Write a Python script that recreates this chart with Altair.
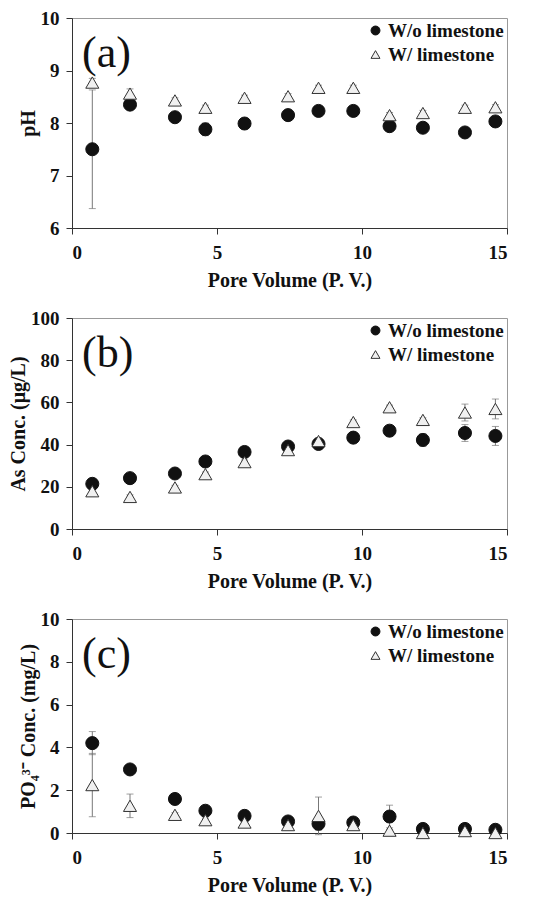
import altair as alt
import pandas as pd

series_names = ["W/o limestone", "W/ limestone"]
pore_volume = [0.7, 2.0, 3.55, 4.6, 5.95, 7.45, 8.5, 9.7, 10.95, 12.1, 13.55, 14.6]

ph_wo = [7.50, 8.35, 8.11, 7.88, 7.99, 8.15, 8.23, 8.23, 7.94, 7.91, 7.82, 8.03]
ph_wo_err = [1.13, 0.05, 0.08, 0.12, 0.04, 0.04, 0.04, 0.04, 0.05, 0.05, 0.04, 0.05]
ph_w = [8.77, 8.56, 8.43, 8.29, 8.48, 8.51, 8.67, 8.67, 8.15, 8.19, 8.29, 8.30]
ph_w_err = [0.08, 0.09, 0.05, 0.05, 0.05, 0.05, 0.05, 0.05, 0.05, 0.05, 0.05, 0.05]

as_wo = [21.4, 24.1, 26.3, 32.0, 36.5, 39.1, 40.3, 43.3, 46.6, 42.2, 45.5, 44.1]
as_wo_err = [1.0, 1.0, 1.0, 1.0, 1.0, 1.5, 2.0, 1.0, 1.0, 3.0, 4.0, 4.5]
as_w = [17.9, 15.2, 19.7, 26.0, 31.7, 37.4, 41.7, 50.7, 57.7, 51.7, 55.2, 56.9]
as_w_err = [1.0, 1.0, 1.0, 1.0, 1.0, 1.0, 1.5, 1.0, 1.0, 1.0, 4.0, 4.7]

po4_wo = [4.20, 2.97, 1.59, 1.04, 0.80, 0.54, 0.43, 0.49, 0.77, 0.19, 0.19, 0.15]
po4_wo_err = [0.54, 0.05, 0.05, 0.05, 0.05, 0.05, 0.30, 0.05, 0.53, 0.05, 0.05, 0.05]
po4_w = [2.24, 1.27, 0.85, 0.60, 0.49, 0.37, 0.80, 0.37, 0.11, 0.00, 0.09, 0.00]
po4_w_err = [1.48, 0.55, 0.10, 0.10, 0.05, 0.05, 0.88, 0.05, 0.05, 0.05, 0.05, 0.05]

x_ticks = [0, 5, 10, 15]
FONT = "Liberation Serif"


def make_df(wo, wo_err, w, w_err):
    rows = []
    for k, (name, vals, errs) in enumerate(((series_names[0], wo, wo_err), (series_names[1], w, w_err))):
        for i, (x, v, e) in enumerate(zip(pore_volume, vals, errs)):
            rows.append({"pv": x, "val": v, "lo": v - e, "hi": v + e,
                         "series": name, "ord": k * 100 + i})
    return pd.DataFrame(rows)


def panel(df, letter, ytitle, ydomain, yticks, h):
    xenc = alt.X("pv:Q", scale=alt.Scale(domain=[0, 15], nice=False),
                 axis=alt.Axis(values=x_ticks, title="Pore Volume (P. V.)", format="d"))
    yenc = alt.Y("lo:Q", scale=alt.Scale(domain=ydomain, nice=False),
                 axis=alt.Axis(values=yticks, title=ytitle, format="d"))
    base = alt.Chart(df)
    bars = base.mark_rule(color="#777777", strokeWidth=1).encode(x=xenc, y=yenc, y2="hi:Q")
    cap_lo = base.mark_tick(orient="horizontal", color="#777777", size=7, thickness=1).encode(
        x="pv:Q", y="lo:Q")
    cap_hi = base.mark_tick(orient="horizontal", color="#777777", size=7, thickness=1).encode(
        x="pv:Q", y="hi:Q")
    leg = alt.Legend(title=None, orient="top-right", offset=3, labelFont=FONT,
                     labelFontWeight="bold", labelFontSize=19, labelColor="#111111",
                     symbolSize=80, symbolStrokeWidth=1, rowPadding=4, padding=0,
                     labelOffset=3)
    pts = base.mark_point(filled=True, size=170, strokeWidth=1, opacity=1).encode(
        x="pv:Q",
        y="val:Q",
        shape=alt.Shape("series:N", scale=alt.Scale(domain=series_names, range=["circle", "triangle-up"]), legend=leg),
        fill=alt.Fill("series:N", scale=alt.Scale(domain=series_names, range=["#111111", "#f0f0f0"]), legend=leg),
        stroke=alt.Stroke("series:N", scale=alt.Scale(domain=series_names, range=["#111111", "#333333"]), legend=leg),
        order=alt.Order("ord:Q"),
    )
    lab = alt.Chart(pd.DataFrame({"t": [letter]})).mark_text(
        font=FONT, fontSize=44, align="left", baseline="middle", color="#111111"
    ).encode(text="t:N", x=alt.value(10), y=alt.value(36))
    return alt.layer(bars, cap_lo, cap_hi, pts, lab).properties(width=435, height=h)


pa = panel(make_df(ph_wo, ph_wo_err, ph_w, ph_w_err), "(a)", "pH", [6, 10], [6, 7, 8, 9, 10], 210)
pb = panel(make_df(as_wo, as_wo_err, as_w, as_w_err), "(b)", "As Conc. (μg/L)", [0, 100], [0, 20, 40, 60, 80, 100], 211)
pc = panel(make_df(po4_wo, po4_wo_err, po4_w, po4_w_err), "(c)", "PO₄³⁻ Conc. (mg/L)", [0, 10], [0, 2, 4, 6, 8, 10], 214)

chart = alt.vconcat(pa, pb, pc, spacing=17).resolve_scale(
    y="independent", shape="independent", fill="independent", stroke="independent"
).resolve_legend(shape="independent", fill="independent", stroke="independent").properties(
    padding={"left": 0, "top": 0, "right": 0, "bottom": 0}
).configure_view(
    stroke="#999999", strokeWidth=1
).configure_axis(
    grid=False, domainColor="#333333", tickColor="#333333", tickSize=6,
    labelFont=FONT, labelFontSize=19, labelFontWeight="bold", labelColor="#111111",
    titleFont=FONT, titleFontSize=20, titleFontWeight="bold", titleColor="#111111",
).configure_axisX(titlePadding=8, labelPadding=9).configure_axisY(titlePadding=2, labelPadding=7)

chart.save("out.html", embed_options={"renderer": "svg", "actions": False})
